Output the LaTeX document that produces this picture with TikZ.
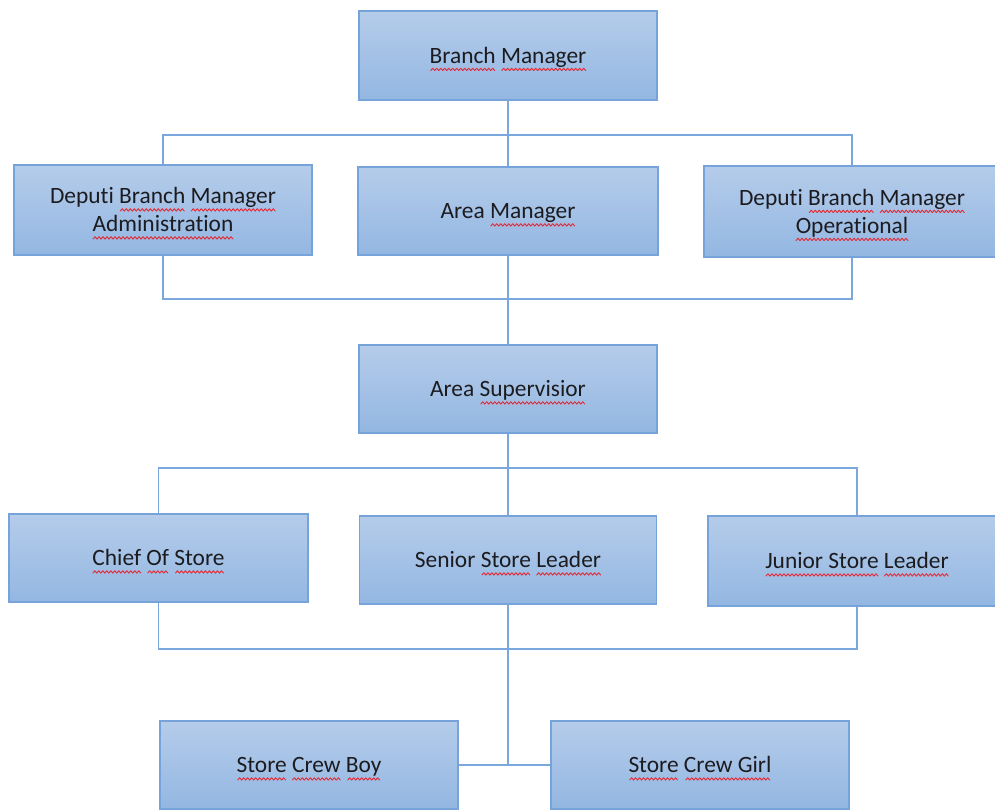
\documentclass[tikz,border=0pt]{standalone}
\usepackage{fontspec}
\setmainfont{Carlito}[Ligatures=NoCommon]
\definecolor{boxtop}{RGB}{181,204,234}
\definecolor{boxbot}{RGB}{147,183,226}
\definecolor{boxline}{RGB}{118,163,218}
\definecolor{conn}{RGB}{122,167,220}
\definecolor{txt}{RGB}{28,28,32}
\definecolor{wavered}{RGB}{230,40,50}
\newsavebox\wavebox
\newsavebox\wordbox
\AtBeginDocument{\sbox\wavebox{\begin{pgfpicture}%
  \pgfsetlinewidth{0.9pt}\pgfsetstrokecolor{wavered}\pgfsetroundcap\pgfsetroundjoin
  \pgfpathmoveto{\pgfpoint{0pt}{0pt}}\pgfpathlineto{\pgfpoint{2pt}{2.4pt}}\pgfpathlineto{\pgfpoint{4pt}{0pt}}%
  \pgfusepath{stroke}%
  \pgfresetboundingbox
  \pgfpathrectanglecorners{\pgfpointorigin}{\pgfpoint{4pt}{0pt}}\pgfusepath{use as bounding box}%
  \end{pgfpicture}}}
\newcommand\rw[1]{\sbox\wordbox{#1}\rlap{\raisebox{-7.5pt}{\hbox to \wd\wordbox{\cleaders\copy\wavebox\hfill}}}\usebox\wordbox}
\newcommand\lbl[1]{\raisebox{-2pt}[\height][\depth]{\begin{tabular}{@{}c@{}}#1\end{tabular}}}
\begin{document}
\begin{tikzpicture}[x=1pt,y=-1pt,
  orgbox/.style={draw=boxline,line width=1.6pt,top color=boxtop,bottom color=boxbot,
    minimum width=298pt,minimum height=89pt,inner sep=0pt,
    text=txt,font=\fontsize{23.4}{28}\selectfont},
  link/.style={draw=conn,line width=1.8pt}]
\useasboundingbox (0,0) rectangle (995,810);
\clip (0,0) rectangle (995,810);
\node[orgbox] (bm) at (508,55.5) {\lbl{\rw{Branch} \rw{Manager}}};
\node[orgbox,minimum height=90pt] (dadm) at (163,210) {\lbl{Deputi \rw{Branch} \rw{Manager}\\\rw{Administration}}};
\node[orgbox,minimum height=88pt,minimum width=300pt] (am) at (508,211) {\lbl{Area \rw{Manager}}};
\node[orgbox,minimum height=91pt,minimum width=296pt] (dop) at (852,211.5) {\lbl{Deputi \rw{Branch} \rw{Manager}\\\rw{Operational}}};
\node[orgbox,minimum height=88pt] (as) at (508,389) {\lbl{Area \rw{Supervisior}}};
\node[orgbox,minimum height=88pt,minimum width=299pt] (cos) at (158.5,558) {\lbl{\rw{Chief} \rw{Of} \rw{Store}}};
\node[orgbox,minimum height=88pt,minimum width=297pt] (ssl) at (508,560) {\lbl{Senior \rw{Store} \rw{Leader}}};
\node[orgbox,minimum height=90pt] (jsl) at (857,561) {\lbl{\rw{Junior Store} \rw{Leader}}};
\node[orgbox,minimum height=88pt] (scb) at (309,765) {\lbl{\rw{Store} \rw{Crew} \rw{Boy}}};
\node[orgbox,minimum height=88pt] (scg) at (700,765) {\lbl{\rw{Store} \rw{Crew Girl}}};
\coordinate (j1) at (508,135);
\coordinate (j2) at (508,299);
\coordinate (j3) at (508,468);
\coordinate (j4) at (508,649);
\path[link] (bm.south) -- (am.north);
\path[link] (dadm.north) -- (dadm.north |- j1) -- (dop.north |- j1) -- (dop.north);
\path[link] (dadm.south) -- (dadm.south |- j2) -- (dop.south |- j2) -- (dop.south);
\path[link] (am.south) -- (as.north);
\path[link] (as.south) -- (ssl.north);
\path[link] (cos.north) -- (cos.north |- j3) -- (jsl.north |- j3) -- (jsl.north);
\path[link] (cos.south) -- (cos.south |- j4) -- (jsl.south |- j4) -- (jsl.south);
\path[link] (ssl.south) -- (ssl.south |- scb.east);
\path[link] (scb.east) -- (scg.west);
\end{tikzpicture}
\end{document}
